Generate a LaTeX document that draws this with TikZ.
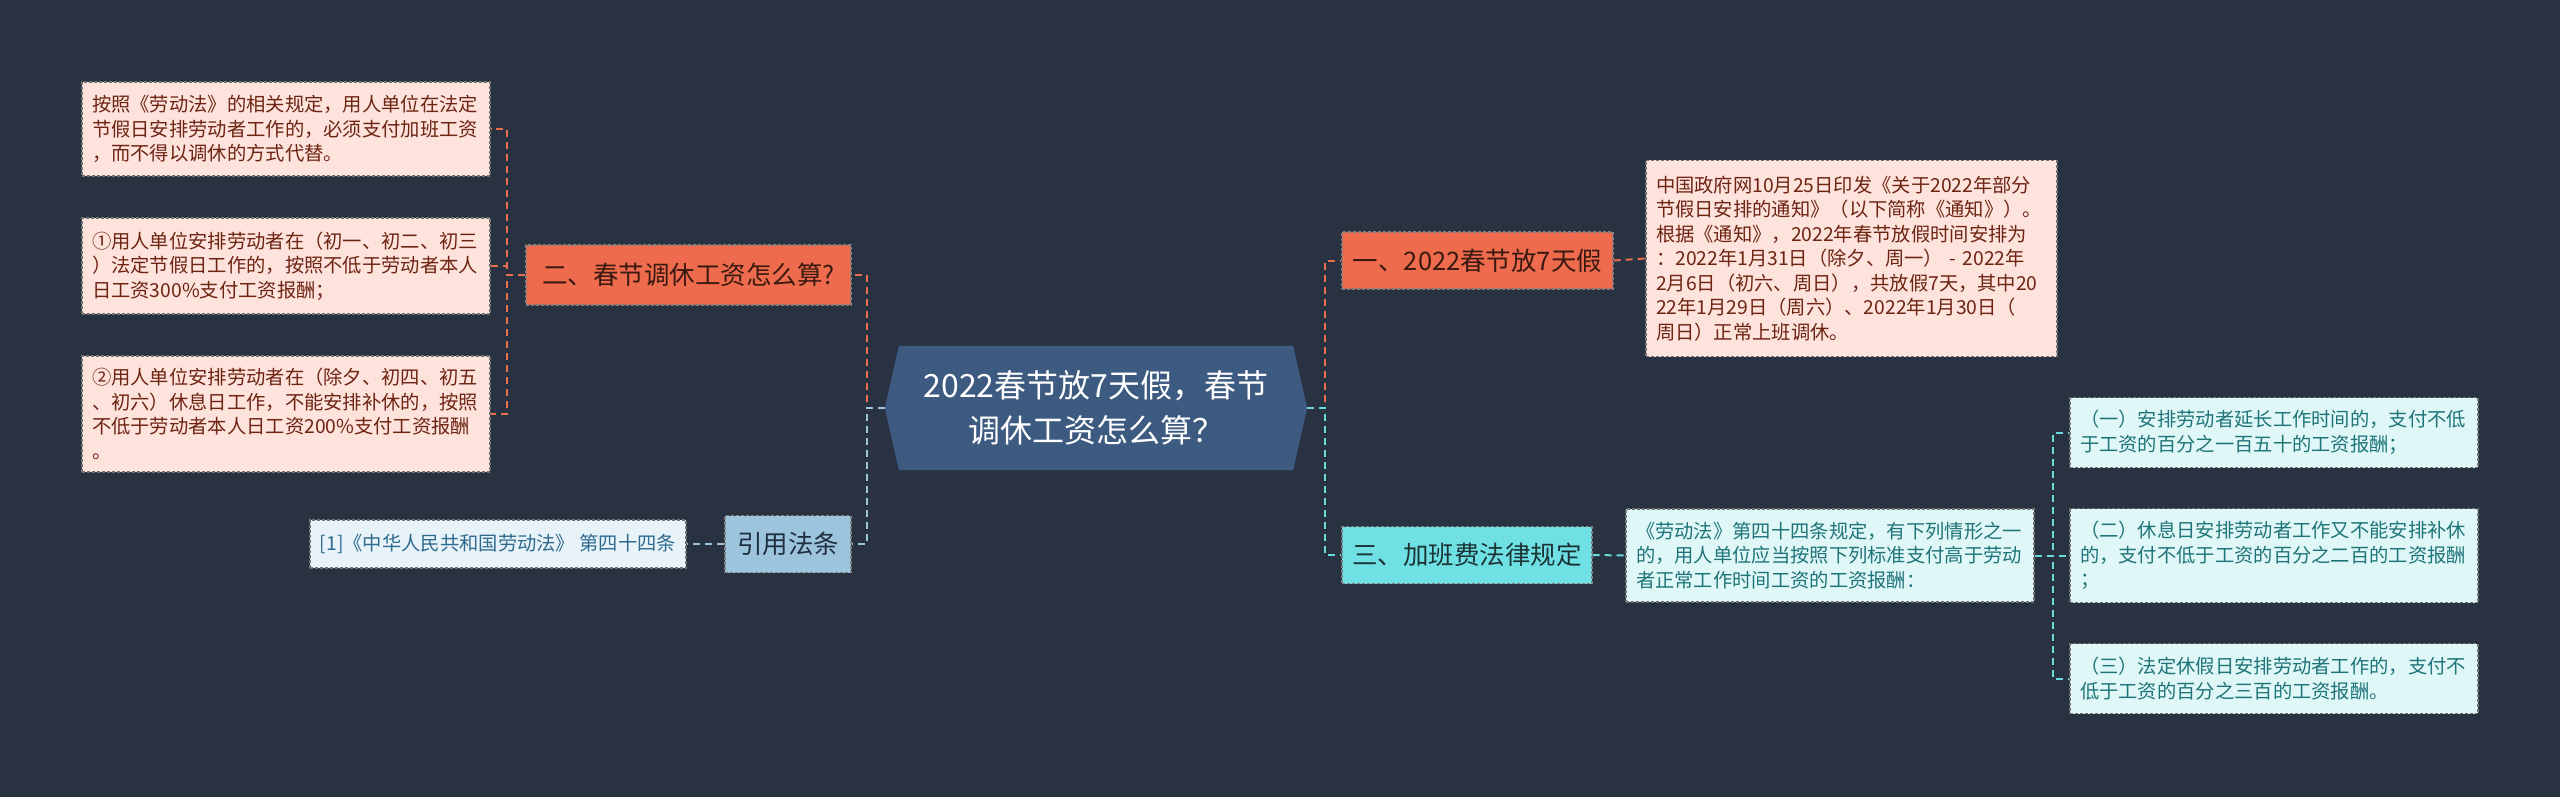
\documentclass[tikz,border=0pt]{standalone}
\usepackage{fontspec}
\setmainfont{Noto Sans CJK SC}
\usetikzlibrary{calc,backgrounds}
\definecolor{bgc}{HTML}{293241}
\definecolor{hexc}{HTML}{3D5A80}
\definecolor{orf}{HTML}{EE6C4D}
\definecolor{ort}{HTML}{3A1A10}
\definecolor{pkf}{HTML}{FDE3DC}
\definecolor{pkt}{HTML}{6E2412}
\definecolor{cyf}{HTML}{6FE0E3}
\definecolor{cyt}{HTML}{1C3436}
\definecolor{lcf}{HTML}{E0F7F8}
\definecolor{lct}{HTML}{1E7478}
\definecolor{blf}{HTML}{9DC4DD}
\definecolor{blt}{HTML}{1F2F40}
\definecolor{lbf}{HTML}{E8F3F9}
\definecolor{lbt}{HTML}{2E6A8E}
\definecolor{lnO}{HTML}{E96F4F}
\definecolor{lnC}{HTML}{6AD9DC}
\definecolor{lnB}{HTML}{9DC4DD}
\begin{document}
\begin{tikzpicture}[x=1pt,y=-1pt,
  boxbase/.style={rectangle, inner xsep=10pt, inner ysep=0pt, align=left,
    font=\fontsize{19.3}{24.5}\selectfont, dash pattern=on 3pt off 2pt, line width=1.2pt},
  pinkbox/.style={boxbase, fill=pkf, draw=black!55, text=pkt, text width=388pt},
  cyanbox/.style={boxbase, fill=lcf, draw=black!55, text=lct, text width=388pt},
  lvl/.style={rectangle, inner sep=0pt, font=\fontsize{25.5}{30}\selectfont,
    dash pattern=on 3pt off 2pt, line width=1.2pt, draw=black!50},
  conn/.style={line width=2pt, dash pattern=on 7pt off 5pt},
]
\begin{scope}[on background layer]
\fill[bgc] (0,0) rectangle (2560,797);
\end{scope}
\useasboundingbox (0,0) rectangle (2560,797);

% center
\node[text=white, align=center, inner sep=0pt, minimum width=394pt, minimum height=124pt,
  font=\fontsize{32}{45}\selectfont] (c) at (1096,408) {2022春节放7天假，春节\\调休工资怎么算？};
\begin{scope}[on background layer]
\fill[hexc] (c.north west) -- (c.north east) -- ($(c.east)+(14,0)$) -- (c.south east)
  -- (c.south west) -- ($(c.west)+(-14,0)$) -- cycle;
\end{scope}
\coordinate (cl) at ($(c.west)+(-14,0)$);
\coordinate (cr) at ($(c.east)+(14,0)$);

% left branch
\node[lvl, fill=orf, text=ort, minimum width=325pt, minimum height=60pt] (n2) at (688.5,275) {二、春节调休工资怎么算?};
\node[pinkbox, minimum height=94pt] (b1) at (286,129) {按照《劳动法》的相关规定，用人单位在法定\\节假日安排劳动者工作的，必须支付加班工资\\，而不得以调休的方式代替。};
\node[pinkbox, minimum height=96pt] (b2) at (286,266) {①用人单位安排劳动者在（初一、初二、初三\\）法定节假日工作的，按照不低于劳动者本人\\日工资300\%支付工资报酬；};
\node[pinkbox, minimum height=116pt] (b3) at (286,414) {②用人单位安排劳动者在（除夕、初四、初五\\、初六）休息日工作，不能安排补休的，按照\\不低于劳动者本人日工资200\%支付工资报酬\\。};

\node[lvl, fill=blf, text=blt, minimum width=126pt, minimum height=57pt] (cite) at (788,544) {引用法条};
\node[boxbase, fill=lbf, draw=black!55, text=lbt, minimum width=376pt, minimum height=48pt] (ref1) at (498,544) {[1]《中华人民共和国劳动法》 第四十四条};

% right branch
\node[lvl, fill=orf, text=ort, minimum width=271pt, minimum height=57pt] (n1) at (1477.5,260.5) {一、2022春节放7天假};
\node[pinkbox, text width=391pt, minimum height=196pt] (d1) at (1851.5,258.5) {中国政府网10月25日印发《关于2022年部分\\节假日安排的通知》（以下简称《通知》）。\\根据《通知》，2022年春节放假时间安排为\\：2022年1月31日（除夕、周一） - 2022年\\2月6日（初六、周日），共放假7天，其中20\\22年1月29日（周六）、2022年1月30日（\\周日）正常上班调休。};

\node[lvl, fill=cyf, text=cyt, minimum width=250pt, minimum height=57pt] (n3) at (1467,555) {三、加班费法律规定};
\node[cyanbox, minimum height=93pt] (d3) at (1830,555.5) {《劳动法》第四十四条规定，有下列情形之一\\的，用人单位应当按照下列标准支付高于劳动\\者正常工作时间工资的工资报酬：};

\node[cyanbox, minimum height=70pt] (r1) at (2274,432.5) {（一）安排劳动者延长工作时间的，支付不低\\于工资的百分之一百五十的工资报酬；};
\node[cyanbox, minimum height=94pt] (r2) at (2274,555.5) {（二）休息日安排劳动者工作又不能安排补休\\的，支付不低于工资的百分之二百的工资报酬\\；};
\node[cyanbox, minimum height=70pt] (r3) at (2274,678.5) {（三）法定休假日安排劳动者工作的，支付不\\低于工资的百分之三百的工资报酬。};

% connectors
\draw[conn, lnO] (cl) -- ++(-18,0) |- (n2.east);
\draw[conn, lnB] (cl) -- ++(-18,0) |- (cite.east);
\draw[conn, lnO] (cr) -- ++(18,0) |- (n1.west);
\draw[conn, lnC] (cr) -- ++(18,0) |- (n3.west);
\foreach \b in {b1,b2,b3}{\draw[conn, lnO] (n2.west) -- ++(-18,0) |- (\b.east);}
\draw[conn, lnO] (n1.east) -- (d1.west);
\draw[conn, lnB] (cite.west) -- (ref1.east);
\draw[conn, lnC] (n3.east) -- (d3.west);
\foreach \r in {r1,r2,r3}{\draw[conn, lnC] (d3.east) -- ++(18,0) |- (\r.west);}
\end{tikzpicture}
\end{document}
